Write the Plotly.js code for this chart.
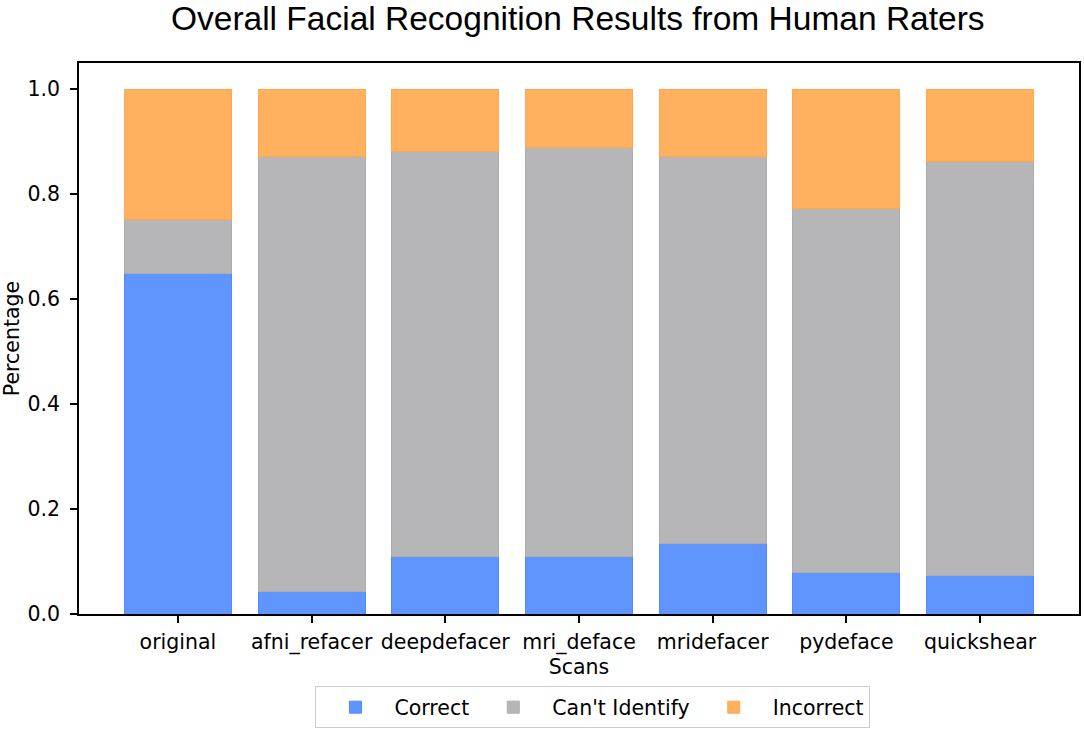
<!DOCTYPE html>
<html>
<head>
<meta charset="utf-8">
<script src="https://cdn.plot.ly/plotly-3.0.1.min.js"></script>
<style>
  html, body { margin: 0; padding: 0; background: #fff; }
  #graph { width: 1084px; height: 732px; }
</style>
</head>
<body>
<div id="graph"></div>
<script>
// data
var scans = ['original', 'afni_refacer', 'deepdefacer', 'mri_deface', 'mridefacer', 'pydeface', 'quickshear'];
var correct = [0.649, 0.042, 0.110, 0.110, 0.135, 0.079, 0.073];
var cantIdentify = [0.103, 0.829, 0.772, 0.779, 0.736, 0.693, 0.790];
var incorrect = [0.248, 0.129, 0.118, 0.111, 0.129, 0.228, 0.137];

var tickFont = {family: 'DejaVu Sans', size: 20.5, color: '#000'};

function barTrace(name, values, fill, edge) {
  return {
    x: scans,
    y: values,
    name: name,
    type: 'bar',
    width: 0.8,
    marker: {color: fill, line: {color: edge, width: 1}},
    hoverinfo: 'x+y+name'
  };
}

var data = [
  barTrace('Correct', correct, '#6095fe', '#4f89fd'),
  barTrace("Can't Identify", cantIdentify, '#b6b5b8', '#acabae'),
  barTrace('Incorrect', incorrect, '#ffb160', '#ffa84e')
];

var layout = {
  barmode: 'stack',
  width: 1084,
  height: 732,
  margin: {l: 79, r: 5, t: 63, b: 118},
  paper_bgcolor: '#fff',
  plot_bgcolor: '#fff',
  title: {
    text: 'Overall Facial Recognition Results from Human Raters',
    font: {family: 'Liberation Sans, Arial', size: 33.5, color: '#000'},
    x: 0.533,
    xanchor: 'center',
    y: 0.975,
    yanchor: 'middle'
  },
  xaxis: {
    range: [-0.74, 6.74],
    showline: true,
    linecolor: '#000',
    linewidth: 1.5,
    mirror: true,
    ticks: 'outside',
    ticklen: 7,
    tickwidth: 1.5,
    tickcolor: '#000',
    tickfont: tickFont,
    ticklabelstandoff: 2,
    showgrid: false,
    zeroline: false,
    title: {text: 'Scans', font: tickFont, standoff: 2}
  },
  yaxis: {
    range: [0, 1.05],
    tickvals: [0, 0.2, 0.4, 0.6, 0.8, 1.0],
    tickformat: '.1f',
    showline: true,
    linecolor: '#000',
    linewidth: 1.5,
    mirror: true,
    ticks: 'outside',
    ticklen: 7,
    tickwidth: 1.5,
    tickcolor: '#000',
    tickfont: tickFont,
    ticklabelstandoff: 6,
    showgrid: false,
    zeroline: false,
    title: {text: 'Percentage', font: tickFont, standoff: 6}
  },
  legend: {
    orientation: 'h',
    xref: 'container',
    yref: 'container',
    x: 0.547,
    xanchor: 'center',
    y: 0.005,
    yanchor: 'bottom',
    traceorder: 'normal',
    font: tickFont,
    bordercolor: '#cccccc',
    borderwidth: 1,
    itemwidth: 68
  },
  showlegend: true
};

var config = {responsive: false, displayModeBar: false};
Plotly.newPlot('graph', data, layout, config);
</script>
</body>
</html>
